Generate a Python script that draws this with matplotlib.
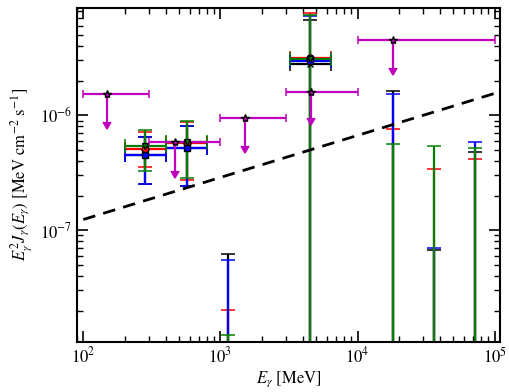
import numpy as np
import matplotlib
matplotlib.use('Agg')
import matplotlib.pyplot as plt

plt.rcParams['font.family'] = 'STIXGeneral'
plt.rcParams['mathtext.fontset'] = 'stix'

# energy bins [MeV]
E = [283, 566, 1131, 4525, 18102, 36204, 72408]
E_lo = [200, 400, 800, 3200, 12800, 25600, 51200]
E_hi = [400, 800, 1600, 6400, 25600, 51200, 102400]

# four analyses: central value, upper and lower end of error bar
# (1e-10 / 1e-12 = below the plotted range)
k_val = [4.51e-7, 5.21e-7, 1e-10, 2.8e-6, 1e-10, 1e-10, 1e-10]
k_up = [6.45e-7, 8.1e-7, 6.27e-8, 6.8e-6, 1.61e-6, 6.7e-8, 4.77e-7]
k_dn = [2.55e-7, 2.43e-7, 1e-12, 1e-12, 1e-12, 1e-12, 1e-12]

r_val = [5.13e-7, 5.73e-7, 1e-10, 3.13e-6, 1e-10, 1e-10, 1e-10]
r_up = [7.1e-7, 8.7e-7, 2.02e-8, 7.74e-6, 7.6e-7, 3.44e-7, 4.2e-7]
r_dn = [3.53e-7, 2.75e-7, 1e-12, 1e-12, 1e-12, 1e-12, 1e-12]

b_val = [4.51e-7, 5.21e-7, 1e-10, 2.96e-6, 1e-10, 1e-10, 1e-10]
b_up = [6.49e-7, 8.13e-7, 5.48e-8, 7.29e-6, 1.53e-6, 6.97e-8, 5.82e-7]
b_dn = [2.53e-7, 2.41e-7, 1e-12, 1e-12, 1e-12, 1e-12, 1e-12]

g_val = [5.45e-7, 5.87e-7, 1e-10, 3.08e-6, 1e-10, 1e-10, 1e-10]
g_up = [7.5e-7, 8.87e-7, 1.22e-8, 7.5e-6, 5.67e-7, 5.37e-7, 5.21e-7]
g_dn = [3.26e-7, 2.82e-7, 1e-12, 1e-12, 1e-12, 1e-12, 1e-12]

# upper limits
ul_E = [150, 465, 1500, 4600, 18000]
ul_lo = [100, 300, 1000, 3000, 10000]
ul_hi = [300, 1000, 3000, 10000, 100000]
ul_val = [1.53e-6, 5.8e-7, 9.4e-7, 1.6e-6, 4.5e-6]
ul_tip = [8.8e-7, 3.3e-7, 5.4e-7, 9.4e-7, 2.57e-6]

# sensitivity line
sens_E = [100, 100000]
sens_F = [1.24e-7, 1.55e-6]

fig = plt.figure(figsize=(5.1, 3.92), dpi=100)
ax = fig.add_axes([0.151, 0.128, 0.829, 0.852])

E = np.array(E)
xerr = [E - np.array(E_lo), np.array(E_hi) - E]

series = [(k_val, k_up, k_dn, 'k', 'x'),
          (r_val, r_up, r_dn, 'r', 'o'),
          (b_val, b_up, b_dn, 'b', 's'),
          (g_val, g_up, g_dn, 'g', 'v')]
for val, up, dn, c, m in series:
	val = np.array(val)
	yerr = [val - np.array(dn), np.array(up) - val]
	ax.errorbar(E, val, xerr=xerr, yerr=yerr, fmt=m, color=c, mec='k', ms=5,
		elinewidth=1.6, capsize=5, capthick=1.1)

ul_E = np.array(ul_E)
ul_val = np.array(ul_val)
ax.errorbar(ul_E, ul_val, xerr=[ul_E - np.array(ul_lo), np.array(ul_hi) - ul_E],
	yerr=ul_val - np.array(ul_tip), uplims=True, fmt='*', color='m', mec='k',
	ms=6, elinewidth=1.6, capsize=3.2, capthick=1.1)

ax.plot(sens_E, sens_F, 'k--', lw=2, dashes=(4.5, 3))

ax.set_xscale('log')
ax.set_yscale('log')
ax.set_xlim(90, 1.09e5)
ax.set_ylim(1.07e-8, 8.6e-6)
ax.tick_params(which='both', direction='in', top=True, right=True, labelsize=12)
ax.tick_params(which='major', length=8, width=1.2)
ax.tick_params(which='minor', length=4, width=1)
for s in ax.spines.values():
	s.set_linewidth(1.5)

ax.set_xlabel(r'$E_\gamma$ [MeV]', fontsize=12, labelpad=2)
ax.set_ylabel(r'$E_\gamma^2 J_\gamma(E_\gamma)$ [MeV cm$^{-2}$ s$^{-1}$]', fontsize=12, labelpad=4)

fig.savefig('out.png', dpi=100)
